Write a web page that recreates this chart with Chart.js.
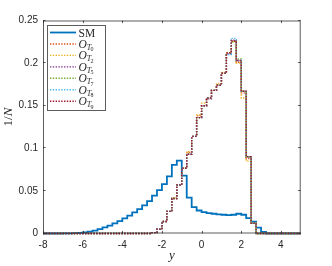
<!DOCTYPE html>
<html>
<head>
<meta charset="utf-8">
<script src="https://cdn.jsdelivr.net/npm/chart.js@4.4.1/dist/chart.umd.min.js"></script>
<style>
  html, body { margin: 0; padding: 0; background: #fff; }
  canvas { display: block; }
</style>
</head>
<body>
<canvas id="histChart" width="332" height="266"></canvas>
<script>
// Histogram bin edges (width 0.25, from -8 to 5)
const binEdges = [
  -8, -7.75, -7.5, -7.25, -7, -6.75, -6.5, -6.25, -6, -5.75, -5.5, -5.25, -5,
  -4.75, -4.5, -4.25, -4, -3.75, -3.5, -3.25, -3, -2.75, -2.5, -2.25, -2,
  -1.75, -1.5, -1.25, -1, -0.75, -0.5, -0.25, 0, 0.25, 0.5, 0.75, 1, 1.25,
  1.5, 1.75, 2, 2.25, 2.5, 2.75, 3, 3.25, 3.5, 3.75, 4, 4.25, 4.5, 4.75, 5
];

const xTicks = [-8, -6, -4, -2, 0, 2, 4];
const yTicks = [0, 0.05, 0.1, 0.15, 0.2, 0.25];

// one value per bin (52 bins)
const smValues = [
  0, 0, 0, 0, 0.0001, 0.0002, 0.0004, 0.0008, 0.0014, 0.0022, 0.0033, 0.0052,
  0.0072, 0.0092, 0.0118, 0.0145, 0.0178, 0.021, 0.0248, 0.0285, 0.033, 0.038,
  0.0445, 0.051, 0.058, 0.067, 0.0805, 0.0855, 0.068, 0.042, 0.031, 0.027,
  0.025, 0.024, 0.0232, 0.0225, 0.022, 0.0215, 0.022, 0.0232, 0.022, 0.018,
  0.014, 0.0068, 0.0018, 0, 0, 0, 0, 0, 0, 0
];

const oT0Values = [
  0, 0, 0, 0, 0, 0, 0, 0, 0, 0, 0, 0, 0, 0, 0, 0, 0, 0, 0, 0, 0, 0,
  0.001, 0.005, 0.014, 0.026, 0.041, 0.057, 0.0765, 0.095, 0.114, 0.138,
  0.150, 0.159, 0.168, 0.174, 0.188, 0.212, 0.226, 0.201, 0.165, 0.088,
  0.012, 0, 0, 0, 0, 0, 0, 0, 0, 0
];
const oT2Values = [
  0, 0, 0, 0, 0, 0, 0, 0, 0, 0, 0, 0, 0, 0, 0, 0, 0, 0, 0, 0, 0, 0,
  0.001, 0.005, 0.014, 0.026, 0.042, 0.057, 0.077, 0.096, 0.114, 0.139,
  0.153, 0.159, 0.168, 0.176, 0.189, 0.212, 0.225, 0.200, 0.159, 0.085,
  0.012, 0, 0, 0, 0, 0, 0, 0, 0, 0
];
const oT5Values = [
  0, 0, 0, 0, 0, 0, 0, 0, 0, 0, 0, 0, 0, 0, 0, 0, 0, 0, 0, 0, 0, 0,
  0.001, 0.005, 0.014, 0.026, 0.041, 0.057, 0.0765, 0.093, 0.114, 0.136,
  0.150, 0.158, 0.168, 0.174, 0.188, 0.211, 0.227, 0.203, 0.167, 0.090,
  0.012, 0, 0, 0, 0, 0, 0, 0, 0, 0
];
const oT7Values = [
  0, 0, 0, 0, 0, 0, 0, 0, 0, 0, 0, 0, 0, 0, 0, 0, 0, 0, 0, 0, 0, 0,
  0.001, 0.005, 0.014, 0.026, 0.041, 0.057, 0.0765, 0.093, 0.114, 0.136,
  0.150, 0.159, 0.168, 0.174, 0.188, 0.212, 0.225, 0.205, 0.167, 0.090,
  0.012, 0, 0, 0, 0, 0, 0, 0, 0, 0
];
const oT8Values = [
  0, 0, 0, 0, 0, 0, 0, 0, 0, 0, 0, 0, 0, 0, 0, 0, 0, 0, 0, 0, 0, 0,
  0.001, 0.005, 0.014, 0.026, 0.041, 0.057, 0.0765, 0.093, 0.114, 0.136,
  0.150, 0.159, 0.168, 0.174, 0.188, 0.210, 0.229, 0.203, 0.167, 0.090,
  0.012, 0, 0, 0, 0, 0, 0, 0, 0, 0
];
const oT9Values = [
  0, 0, 0, 0, 0, 0, 0, 0, 0, 0, 0, 0, 0, 0, 0, 0, 0, 0, 0, 0, 0, 0,
  0.001, 0.005, 0.014, 0.026, 0.041, 0.057, 0.0765, 0.093, 0.114, 0.136,
  0.150, 0.159, 0.168, 0.174, 0.188, 0.212, 0.226, 0.203, 0.167, 0.090,
  0.012, 0, 0, 0, 0, 0, 0, 0, 0, 0
];

const seriesNames = ["SM", "0", "2", "5", "7", "8", "9"];
const seriesColors = ["#0072BD", "#D95319", "#EDB120", "#7E2F8E", "#77AC30", "#4DBEEE", "#A2142F"];
const seriesValues = [smValues, oT0Values, oT2Values, oT5Values, oT7Values, oT8Values, oT9Values];

const axisColor = "#262626";
const serif = "'Liberation Serif', 'DejaVu Serif', serif";

// histogram outline: value of each bin held up to the next edge
function toSteps(values) {
  return binEdges.map((x, i) => ({ x: x, y: i < values.length ? values[i] : 0 }));
}

// later series painted on top, as in the original plot
const datasets = seriesValues.map((vals, i) => ({
  label: seriesNames[i],
  data: toSteps(vals),
  borderColor: seriesColors[i],
  borderWidth: i === 0 ? 1.8 : 1.4,
  borderDash: i === 0 ? [] : [1.4, 1.4],
  stepped: "before",
  pointRadius: 0,
  fill: false,
  clip: false,
  order: seriesValues.length - i
}));

// frame with inward ticks on all four sides, like a matlab box
const framePlugin = {
  id: "frame",
  afterDatasetsDraw(chart) {
    const { ctx, chartArea: a, scales } = chart;
    ctx.save();
    ctx.strokeStyle = "rgba(38,38,38,0.75)";
    ctx.lineWidth = 1;
    ctx.strokeRect(a.left + 0.5, a.top + 0.5, a.right - a.left - 1, a.bottom - a.top - 1);
    const len = 2.6;
    ctx.beginPath();
    xTicks.forEach(v => {
      const px = Math.round(scales.x.getPixelForValue(v)) + 0.5;
      ctx.moveTo(px, a.bottom); ctx.lineTo(px, a.bottom - len);
      ctx.moveTo(px, a.top); ctx.lineTo(px, a.top + len);
    });
    yTicks.forEach(v => {
      const py = Math.round(scales.y.getPixelForValue(v)) - 0.5;
      ctx.moveTo(a.left, py); ctx.lineTo(a.left + len, py);
      ctx.moveTo(a.right, py); ctx.lineTo(a.right - len, py);
    });
    ctx.stroke();
    ctx.restore();
  }
};

// axis titles in latex-like style
const titlePlugin = {
  id: "titles",
  afterDraw(chart) {
    const { ctx, chartArea: a } = chart;
    ctx.save();
    ctx.fillStyle = axisColor;
    ctx.textBaseline = "alphabetic";
    ctx.font = "italic 13px " + serif;
    ctx.textAlign = "center";
    ctx.fillText("y", (a.left + a.right) / 2, 259);

    ctx.translate(12, 117);
    ctx.rotate(-Math.PI / 2);
    ctx.font = "13px " + serif;
    const w1 = ctx.measureText("1/").width;
    ctx.font = "italic 13px " + serif;
    const w2 = ctx.measureText("N").width;
    const x0 = -(w1 + w2) / 2;
    ctx.textAlign = "left";
    ctx.font = "13px " + serif;
    ctx.fillText("1/", x0, 0);
    ctx.font = "italic 13px " + serif;
    ctx.fillText("N", x0 + w1, 0);
    ctx.restore();
  }
};

// legend box with subscripted labels
const legendPlugin = {
  id: "texLegend",
  afterDraw(chart) {
    const { ctx } = chart;
    const box = { x: 47.5, y: 25.5, w: 58, h: 85 };
    ctx.save();
    ctx.fillStyle = "#fff";
    ctx.fillRect(box.x, box.y, box.w, box.h);
    ctx.strokeStyle = "rgba(38,38,38,0.75)";
    ctx.lineWidth = 1;
    ctx.strokeRect(box.x, box.y, box.w, box.h);
    seriesNames.forEach((name, i) => {
      const cy = 32.5 + i * 11.45;
      ctx.strokeStyle = seriesColors[i];
      ctx.lineWidth = i === 0 ? 1.8 : 1.4;
      ctx.setLineDash(i === 0 ? [] : [1.4, 1.4]);
      ctx.beginPath();
      ctx.moveTo(50, cy);
      ctx.lineTo(76, cy);
      ctx.stroke();
      ctx.setLineDash([]);
      ctx.fillStyle = axisColor;
      ctx.textAlign = "left";
      ctx.textBaseline = "alphabetic";
      if (i === 0) {
        ctx.font = "11.5px " + serif;
        ctx.fillText("SM", 78.5, cy + 4);
      } else {
        ctx.font = "italic 11.5px " + serif;
        ctx.fillText("O", 78.5, cy + 4);
        const wO = ctx.measureText("O").width;
        ctx.font = "italic 8px " + serif;
        ctx.fillText("T", 78.5 + wO, cy + 6);
        const wT = ctx.measureText("T").width;
        ctx.font = "6px " + serif;
        ctx.fillText(name, 78.5 + wO + wT - 0.8, cy + 7.5);
      }
    });
    ctx.restore();
  }
};

const ctx = document.getElementById("histChart").getContext("2d");
const histChart = new Chart(ctx, {
  type: "line",
  data: { datasets: datasets },
  options: {
    responsive: false,
    animation: false,
    layout: { padding: { left: 0, right: 31.3, top: 20.5, bottom: 0 } },
    plugins: {
      legend: { display: false },
      tooltip: { enabled: false }
    },
    scales: {
      x: {
        type: "linear",
        min: -8,
        max: 5,
        grid: { display: false, drawTicks: false },
        border: { display: false },
        afterBuildTicks: scale => { scale.ticks = xTicks.map(v => ({ value: v })); },
        afterFit: scale => { scale.height = 32.5; },
        ticks: {
          color: axisColor,
          font: { family: "'Liberation Sans', Arial, sans-serif", size: 10 },
          padding: 6,
          maxRotation: 0,
          callback: v => String(v)
        }
      },
      y: {
        min: 0,
        max: 0.25,
        grid: { display: false, drawTicks: false },
        border: { display: false },
        afterBuildTicks: scale => { scale.ticks = yTicks.map(v => ({ value: v })); },
        afterFit: scale => { scale.width = 43; },
        ticks: {
          color: axisColor,
          font: { family: "'Liberation Sans', Arial, sans-serif", size: 10 },
          padding: 5,
          callback: v => String(+v.toFixed(2))
        }
      }
    }
  },
  plugins: [framePlugin, titlePlugin, legendPlugin]
});
</script>
</body>
</html>
